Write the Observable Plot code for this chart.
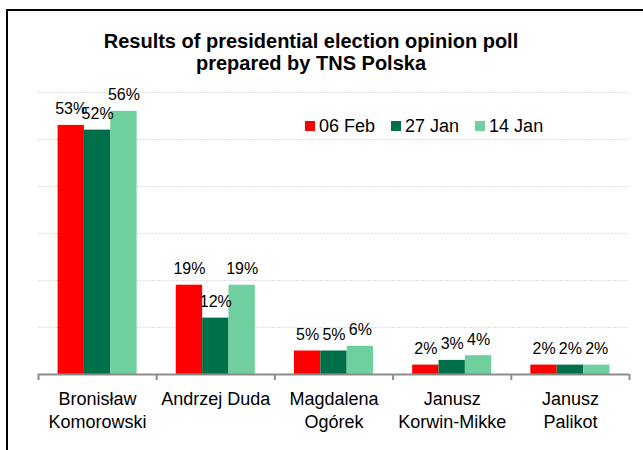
<!DOCTYPE html>
<html><head><meta charset="utf-8">
<script src="https://cdn.jsdelivr.net/npm/d3@7"></script>
<script src="https://cdn.jsdelivr.net/npm/@observablehq/plot@0.6"></script>
<style>
body{margin:0;background:#fff;font-family:"Liberation Sans",Arial,sans-serif;}
#wrap{position:relative;width:643px;height:450px;overflow:hidden;background:#fff;}
#frame{position:absolute;left:6px;top:9px;width:700px;height:500px;border-left:2px solid #000;border-top:2px solid #000;}
#title{position:absolute;left:0;width:622px;top:30px;text-align:center;font-weight:bold;font-size:20px;line-height:22px;color:#000;}
#legend{position:absolute;left:305px;top:116px;display:flex;align-items:center;font-size:18px;line-height:20px;color:#000;}
#legend .item{display:flex;align-items:center;margin-right:16px;}
#legend .sw{width:10px;height:10px;margin-right:4px;}
#chart{position:absolute;left:0;top:0;}
</style>
</head><body>
<div id="wrap">
  <div id="frame"></div>
  <div id="chart"></div>
  <div id="title">Results of presidential election opinion poll<br>prepared by TNS Polska</div>
  <div id="legend"></div>
</div>
<script>
const candidates = ["Bronisław\nKomorowski", "Andrzej Duda", "Magdalena\nOgórek", "Janusz\nKorwin-Mikke", "Janusz\nPalikot"];
const seriesNames = ["06 Feb", "27 Jan", "14 Jan"];
const feb06 = [53, 19, 5, 2, 2];
const jan27 = [52, 12, 5, 3, 2];
const jan14 = [56, 19, 6, 4, 2];
const yTicks = [10, 20, 30, 40, 50, 60];
const colors = ["#ff0000", "#00704a", "#70cf9f"];

const seriesValues = [feb06, jan27, jan14];
const data = [];
seriesValues.forEach((vals, j) => vals.forEach((v, i) => data.push({i, j, series: seriesNames[j], value: v})));
const barW = 0.223;
const cx = d => d.i + (d.j - 1) * barW;
const boundaries = d3.range(candidates.length + 1).map(k => k - 0.5);

const chart = Plot.plot({
  width: 643, height: 450,
  marginTop: 92, marginBottom: 76, marginLeft: 38, marginRight: 14,
  x: {type: "linear", domain: [-0.5, candidates.length - 0.5]},
  y: {domain: [0, 60], axis: null},
  color: {domain: seriesNames, range: colors},
  style: {fontFamily: "Liberation Sans, Arial, sans-serif", background: "transparent", color: "#000"},
  marks: [
    Plot.gridY(yTicks, {stroke: "#e0e0e0", strokeOpacity: 1, strokeDasharray: "2,1"}),
    Plot.rectY(data, {x1: d => cx(d) - barW / 2, x2: d => cx(d) + barW / 2, y: "value", fill: "series"}),
    Plot.text(data, {x: cx, y: "value", text: d => d.value + "%", dy: -11, lineAnchor: "bottom", fontSize: 16, fill: "#000"}),
    Plot.ruleY([0], {stroke: "#8c8c8c", strokeWidth: 2}),
    Plot.axisX({ticks: boundaries, tickSize: 6, tickFormat: () => "", stroke: "#8c8c8c", strokeWidth: 2}),
    Plot.text(candidates, {x: (d, i) => i, frameAnchor: "bottom", lineAnchor: "top", dy: 15, lineHeight: 1.25, fontSize: 18, fill: "#000", text: d => d})
  ]
});
document.getElementById("chart").appendChild(chart);

const legend = document.getElementById("legend");
seriesNames.forEach((name, j) => {
  const it = document.createElement("div");
  it.className = "item";
  it.innerHTML = `<span class="sw" style="background:${colors[j]}"></span><span>${name}</span>`;
  legend.appendChild(it);
});
</script>
</body></html>
